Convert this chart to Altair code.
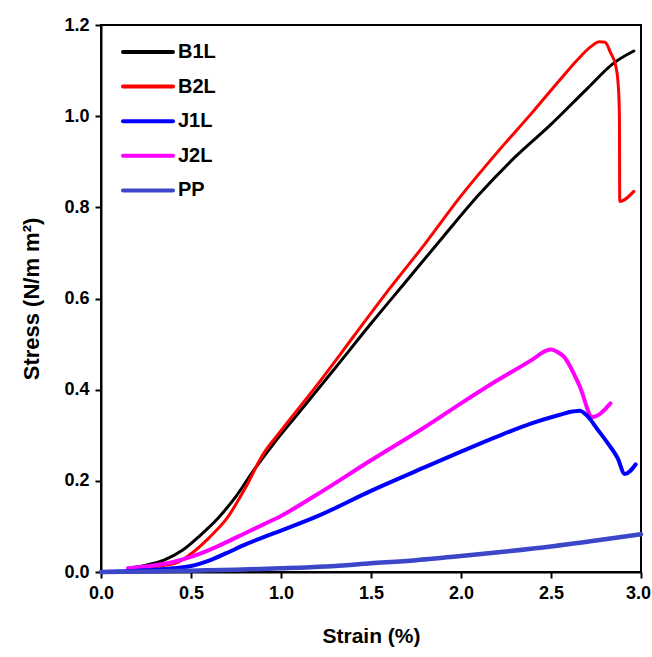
import altair as alt
import pandas as pd

# ---- data ----
b1l_x = [0.15, 0.25, 0.35, 0.45, 0.55, 0.65, 0.75, 0.85, 0.95, 1.1, 1.3, 1.5, 1.7, 1.9, 2.1, 2.3, 2.5, 2.7, 2.85, 2.96]
b1l_y = [0.008, 0.015, 0.026, 0.047, 0.08, 0.118, 0.166, 0.224, 0.277, 0.35, 0.447, 0.545, 0.64, 0.735, 0.828, 0.91, 0.982, 1.06, 1.117, 1.143]

b2l_x = [0.17, 0.3, 0.42, 0.5, 0.6, 0.7, 0.8, 0.9, 1.0, 1.2, 1.4, 1.6, 1.8, 2.0, 2.2, 2.4, 2.55, 2.65, 2.72, 2.77, 2.8, 2.83, 2.86, 2.875, 2.88, 2.882, 2.96]
b2l_y = [0.008, 0.012, 0.02, 0.04, 0.075, 0.118, 0.183, 0.258, 0.31, 0.41, 0.515, 0.62, 0.72, 0.825, 0.92, 1.01, 1.08, 1.125, 1.152, 1.163, 1.162, 1.14, 1.11, 1.06, 1.0, 0.813, 0.835]

j1l_x = [0.0, 0.1, 0.2, 0.3, 0.4, 0.5, 0.6, 0.7, 0.8, 0.9, 1.0, 1.2, 1.5, 1.8, 2.0, 2.2, 2.4, 2.55, 2.62, 2.66, 2.7, 2.76, 2.82, 2.87, 2.91, 2.97]
j1l_y = [0.0, 0.001, 0.003, 0.005, 0.008, 0.013, 0.025, 0.042, 0.06, 0.076, 0.091, 0.122, 0.178, 0.23, 0.264, 0.297, 0.327, 0.345, 0.352, 0.354, 0.343, 0.312, 0.28, 0.25, 0.215, 0.236]

j2l_x = [0.15, 0.3, 0.4, 0.5, 0.6, 0.7, 0.8, 0.9, 1.0, 1.2, 1.5, 1.8, 2.0, 2.2, 2.4, 2.47, 2.5, 2.53, 2.57, 2.66, 2.73, 2.83]
j2l_y = [0.008, 0.015, 0.022, 0.033, 0.048, 0.066, 0.085, 0.104, 0.123, 0.17, 0.245, 0.318, 0.37, 0.42, 0.467, 0.485, 0.488, 0.484, 0.473, 0.407, 0.34, 0.37]

pp_x = [0.0, 0.25, 0.5, 0.75, 1.0, 1.25, 1.5, 1.75, 2.0, 2.25, 2.5, 2.75, 3.0]
pp_y = [0.0, 0.001, 0.003, 0.005, 0.008, 0.012, 0.019, 0.026, 0.035, 0.045, 0.056, 0.069, 0.083]

series_names = ["B1L", "B2L", "J1L", "J2L", "PP"]
series_colors = ["#000000", "#FF0000", "#0000FF", "#FF00FF", "#3C46C8"]
series_widths = [3, 3, 4, 4, 4.5]
draw_rank = [0, 1, 3, 2, 4]

x_ticks = [0.0, 0.5, 1.0, 1.5, 2.0, 2.5, 3.0]
y_ticks = [0.0, 0.2, 0.4, 0.6, 0.8, 1.0, 1.2]

rows = []
for name, xs, ys in zip(series_names,
                        [b1l_x, b2l_x, j1l_x, j2l_x, pp_x],
                        [b1l_y, b2l_y, j1l_y, j2l_y, pp_y]):
    for i, (xv, yv) in enumerate(zip(xs, ys)):
        rows.append({"series": name, "strain": xv, "stress": yv, "idx": i})
df = pd.DataFrame(rows)

legend_df = pd.DataFrame({"series": series_names, "rank": list(range(len(series_names)))})

color_scale = alt.Scale(domain=series_names, range=series_colors)
x_scale = alt.Scale(domain=[0, 3.0], nice=False, zero=False)
y_scale = alt.Scale(domain=[0, 1.2], nice=False)

label_font = "Liberation Sans, Arial, sans-serif"
bold_sans = "Liberation Sans, Arial, sans-serif"

layers = []
for k in sorted(range(len(series_names)), key=lambda k: draw_rank[k]):
    name = series_names[k]
    layers.append(
        alt.Chart(df[df.series == name]).mark_line(
            strokeWidth=series_widths[k], strokeJoin="round", strokeCap="round",
            interpolate="monotone"
        ).encode(
            x=alt.X("strain:Q", scale=x_scale,
                    axis=alt.Axis(values=x_ticks, format=".1f", title="Strain (%)",
                                  labelOffset={"condition": {"test": "datum.value >= 3", "value": -3},
                                               "value": 0})),
            y=alt.Y("stress:Q", scale=y_scale,
                    axis=alt.Axis(values=y_ticks, format=".1f", title="Stress (N/m m²)")),
            color=alt.Color("series:N", scale=color_scale, legend=None),
            order=alt.Order("idx:Q"),
        )
    )

leg_base = alt.Chart(legend_df).transform_calculate(ypix="27 + datum.rank * 34.6")
leg_lines = leg_base.mark_rule(strokeWidth=4, strokeCap="round").encode(
    x=alt.value(22), x2=alt.value(72),
    y=alt.Y("ypix:Q", scale=None),
    color=alt.Color("series:N", scale=color_scale, legend=None),
)
leg_text = leg_base.mark_text(
    align="left", baseline="middle", font=bold_sans, fontWeight="bold", fontSize=20, color="black"
).encode(
    x=alt.value(77), y=alt.Y("ypix:Q", scale=None), text="series:N"
)

chart = alt.layer(*layers, leg_lines, leg_text).properties(
    width=540, height=547,
    autosize=alt.AutoSizeParams(type="none"),
    padding={"left": 101, "top": 25, "right": 11, "bottom": 85},
    background="white",
).configure_view(
    stroke="black", strokeWidth=2
).configure_axis(
    grid=False,
    domainColor="black", domainWidth=2,
    tickColor="black", tickWidth=2, tickSize=6,
    labelFont=label_font, labelFontWeight="bold", labelFontSize=18, labelColor="black",
    labelPadding=6,
    titleFont=bold_sans, titleFontWeight="bold", titleFontSize=21, titleColor="black",
).configure_axisX(
    titlePadding=23, labelFlush=False
).configure_axisY(
    titlePadding=20, labelFlush=False, titleFontSize=22
)

chart.save("out.html", embed_options={"renderer": "svg", "actions": False})
